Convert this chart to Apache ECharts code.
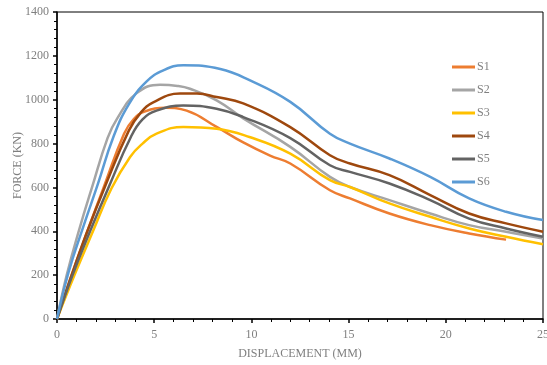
<!DOCTYPE html>
<html>
<head>
<meta charset="utf-8">
<script src="https://cdn.jsdelivr.net/npm/echarts@6/dist/echarts.min.js"></script>
<style>html,body{margin:0;padding:0;background:#fff}#c{width:547px;height:365px}</style>
</head>
<body>
<div id="c"></div>
<script>
var seriesNames = ['S1', 'S2', 'S3', 'S4', 'S5', 'S6'];
var seriesColors = ['#ED7D31', '#A5A5A5', '#FFC000', '#9E480E', '#636363', '#5B9BD5'];

var s1x = [0, 0.75, 1.56, 2.4, 3.45, 3.95, 4.5, 5.6, 6.67, 8.21, 9.58, 10.96, 12, 14.04, 15.07, 17.1, 19.2, 21.2, 23.1];
var s1y = [0, 200, 400, 600, 845, 912, 946, 963, 950, 876, 805, 745, 709, 587, 550, 481, 428, 390, 362];

var s2x = [0, 0.5, 1.15, 1.8, 2.6, 3.1, 4.1, 5.3, 6.2, 6.84, 8.21, 9.58, 12, 14.04, 15.07, 17.1, 19.2, 21.2, 23.1, 25];
var s2y = [0, 200, 410, 600, 825, 915, 1030, 1068, 1063, 1050, 997, 915, 785, 648, 602, 542, 481, 428, 398, 367];

var s3x = [0, 0.9, 1.85, 2.8, 3.76, 4.4, 5.12, 6.5, 8.21, 9.9, 12, 14.04, 15.07, 17.1, 19.2, 21.2, 23.1, 25];
var s3y = [0, 200, 400, 595, 739, 800, 845, 876, 868, 830, 754, 633, 602, 527, 466, 413, 375, 341];

var s4x = [0, 0.75, 1.56, 2.45, 3.7, 4.3, 4.95, 6.33, 7.2, 8.21, 9.58, 12, 14.04, 15.07, 17.1, 19.2, 21.2, 23.1, 25];
var s4y = [0, 200, 400, 600, 860, 940, 988, 1028, 1028, 1012, 983, 875, 747, 709, 656, 565, 481, 436, 398];

var s5x = [0, 0.8, 1.7, 2.7, 3.8, 4.4, 5.12, 6.5, 8.21, 9.58, 12, 14.04, 15.07, 17.1, 19.2, 21.2, 23.1, 25];
var s5y = [0, 200, 400, 610, 830, 910, 950, 974, 959, 921, 825, 701, 671, 618, 542, 458, 413, 375];

var s6x = [0, 0.6, 1.35, 2.1, 2.9, 3.7, 4.6, 5.47, 6.5, 8.4, 9.93, 12, 14.04, 15.07, 17.1, 19.2, 21.2, 23.1, 25];
var s6y = [0, 215, 420, 615, 830, 980, 1082, 1134, 1157, 1140, 1088, 990, 845, 800, 732, 648, 550, 489, 451];

var xTicks = [0, 5, 10, 15, 20, 25];
var yTicks = [0, 200, 400, 600, 800, 1000, 1200, 1400];

var xs = [s1x, s2x, s3x, s4x, s5x, s6x];
var ys = [s1y, s2y, s3y, s4y, s5y, s6y];

function pairs(x, y) { return x.map(function (v, i) { return [v, y[i]]; }); }

var font = 'Liberation Serif';
var series = seriesNames.map(function (n, i) {
  return {
    name: n, type: 'line', data: pairs(xs[i], ys[i]),
    smooth: 0.45, symbol: 'none', showSymbol: false,
    lineStyle: { color: seriesColors[i], width: 2.5 },
    itemStyle: { color: seriesColors[i] }
  };
});

var chart = echarts.init(document.getElementById('c'));
chart.setOption({
  animation: false,
  grid: { left: 57, right: 4, top: 12, bottom: 46, show: true, borderColor: '#000', borderWidth: 1,
          backgroundColor: 'transparent', outerBoundsMode: 'none', containLabel: false },
  legend: {
    orient: 'vertical', left: 447, top: 56,
    icon: 'rect', itemWidth: 23, itemHeight: 3, itemGap: 11,
    textStyle: { fontFamily: font, fontSize: 12, color: '#7f7f7f', padding: [0, 0, 0, -3] },
    data: seriesNames
  },
  xAxis: {
    type: 'value', min: xTicks[0], max: xTicks[xTicks.length - 1], interval: xTicks[1] - xTicks[0],
    name: 'DISPLACEMENT (MM)', nameLocation: 'middle', nameGap: 29,
    nameTextStyle: { fontFamily: font, fontSize: 12, color: '#7f7f7f' },
    axisLine: { show: true, lineStyle: { color: '#000', width: 1.5 } },
    axisTick: { show: true, length: 4, lineStyle: { color: '#000', width: 1.5 } },
    minorTick: { show: true, splitNumber: 5, length: 3, lineStyle: { color: '#000', width: 1 } },
    axisLabel: { fontFamily: font, fontSize: 12, color: '#7f7f7f', margin: 10, formatter: function (v) { return String(v); } },
    splitLine: { show: false }, minorSplitLine: { show: false }
  },
  yAxis: {
    type: 'value', min: yTicks[0], max: yTicks[yTicks.length - 1], interval: yTicks[1] - yTicks[0],
    name: 'FORCE (KN)', nameLocation: 'middle', nameGap: 33, nameMoveOverlap: false,
    nameTextStyle: { fontFamily: font, fontSize: 12, color: '#7f7f7f' },
    axisLine: { show: true, lineStyle: { color: '#000', width: 1.5 } },
    axisTick: { show: true, length: 4, lineStyle: { color: '#000', width: 1.5 } },
    minorTick: { show: true, splitNumber: 5, length: 3, lineStyle: { color: '#000', width: 1 } },
    axisLabel: { fontFamily: font, fontSize: 12, color: '#7f7f7f', margin: 8, formatter: function (v) { return String(v); } },
    splitLine: { show: false }, minorSplitLine: { show: false }
  },
  series: series
});
</script>
</body>
</html>
